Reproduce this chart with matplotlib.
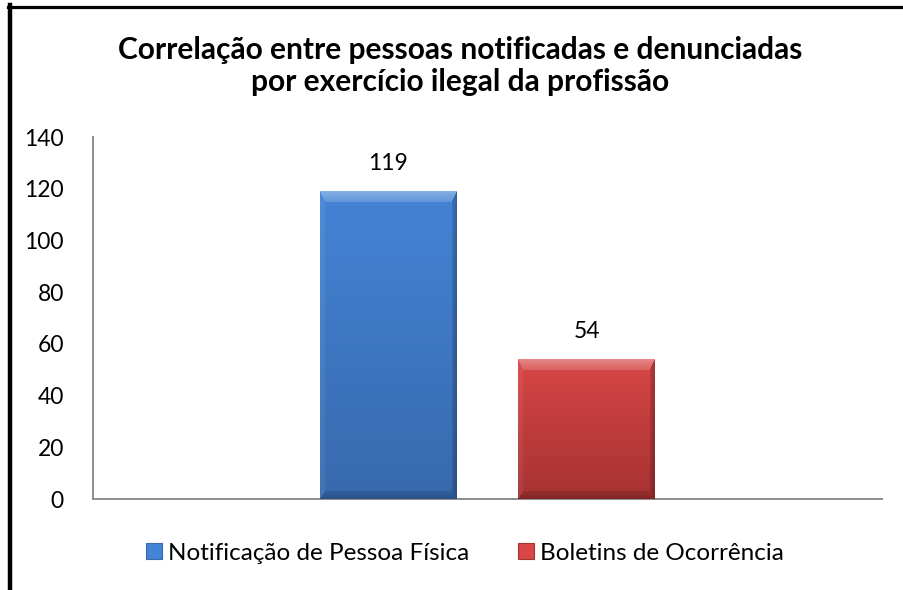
import matplotlib
matplotlib.use("Agg")
import matplotlib.pyplot as plt
import numpy as np
from matplotlib.lines import Line2D
from matplotlib.patches import Rectangle
from matplotlib.colors import to_rgb

series = ["Notificação de Pessoa Física", "Boletins de Ocorrência"]
values = [119, 54]
title = "Correlação entre pessoas notificadas e denunciadas\npor exercício ilegal da profissão"
yticks = [0, 20, 40, 60, 80, 100, 120, 140]

top_cols = ["#4484d6", "#d84646"]
bot_cols = ["#3869ad", "#a63232"]

plt.rcParams['font.family'] = ['Lato', 'DejaVu Sans']
W, H = 904, 590
fig = plt.figure(figsize=(W/100, H/100), dpi=100)
ax = fig.add_axes([93/W, 91/H, 789/W, 362/H])
ax.set_xlim(-0.5, 0.5); ax.set_ylim(0, 140)
ax.set_yticks(yticks)
ax.set_xticks([])
ax.tick_params(axis='y', length=0, pad=21, labelsize=16.5)
for s in ("top", "right"): ax.spines[s].set_visible(False)
for s in ("left", "bottom"):
    ax.spines[s].set_color("#8c8c8c"); ax.spines[s].set_linewidth(1.4)

xs = [-0.1257, 0.1257]
bw = 0.1736
bars = ax.bar(xs, values, bw, color=top_cols, zorder=2)

def bevel_img(wp, hp, c_top, c_bot):
    t = np.linspace(0, 1, hp)[:, None, None]
    base = (1-t)*np.array(to_rgb(c_top)) + t*np.array(to_rgb(c_bot))
    img = np.repeat(base, wp, axis=1)
    ii, jj = np.mgrid[0:hp, 0:wp]
    sizes = {"t": 11.0, "b": 8.0, "l": 5.0, "r": 5.0}
    d = np.stack([ii/sizes["t"], (hp-1-ii)/sizes["b"], jj/sizes["l"], (wp-1-jj)/sizes["r"]])
    k = d.argmin(0); dm = d.min(0); m = dm < 1
    fade = 1 - dm  # stronger near the edge
    shade = np.zeros((hp, wp))
    shade[(k == 0) & m] = 0.35*(0.4+0.6*fade[(k == 0) & m])
    shade[(k == 1) & m] = -0.22*(0.4+0.6*fade[(k == 1) & m])
    shade[(k == 2) & m] = 0.06
    shade[(k == 3) & m] = -0.25*(0.4+0.6*fade[(k == 3) & m])
    out = img.copy()
    pos = shade > 0
    out[pos] = img[pos] + (1-img[pos])*shade[pos][:, None]
    neg = shade < 0
    out[neg] = img[neg]*(1+shade[neg][:, None])
    return np.clip(out, 0, 1)

fig.canvas.draw()
for b, ct, cb in zip(bars, top_cols, bot_cols):
    x0, y0, bwid, bh = b.get_x(), b.get_y(), b.get_width(), b.get_height()
    p0 = ax.transData.transform((x0, y0)); p1 = ax.transData.transform((x0+bwid, y0+bh))
    wp, hp = int(round(p1[0]-p0[0])), int(round(p1[1]-p0[1]))
    ax.imshow(bevel_img(wp, hp, ct, cb), extent=(x0, x0+bwid, y0, y0+bh), aspect='auto',
              interpolation='bilinear', zorder=3)
    ax.annotate(f"{int(bh)}", (x0+bwid/2, bh), xytext=(0, 20), textcoords='offset points',
                ha='center', va='center', fontsize=16.5)
ax.set_xlim(-0.5, 0.5); ax.set_ylim(0, 140)

fig.text(0.509, 1-66/H, title, ha='center', va='center', fontsize=21.5, fontweight='bold',
         linespacing=1.2)

handles = [Rectangle((0, 0), 1, 1, fc=c, ec=cb, lw=0.8) for c, cb in zip(top_cols, bot_cols)]
fig.legend(handles, series, loc='center', bbox_to_anchor=(465/W, 1-553/H), ncol=2, frameon=False,
           fontsize=17.5, handlelength=0.65, handleheight=0.65, handletextpad=0.25, columnspacing=2.0)

# black frame on top and left
fig.add_artist(Line2D([8/W, 1], [1-6.5/H]*2, transform=fig.transFigure, color='black', lw=2.3))
fig.add_artist(Line2D([10/W]*2, [0, 1-5/H], transform=fig.transFigure, color='black', lw=3.2))

fig.savefig("out.png", dpi=100, facecolor="white")
